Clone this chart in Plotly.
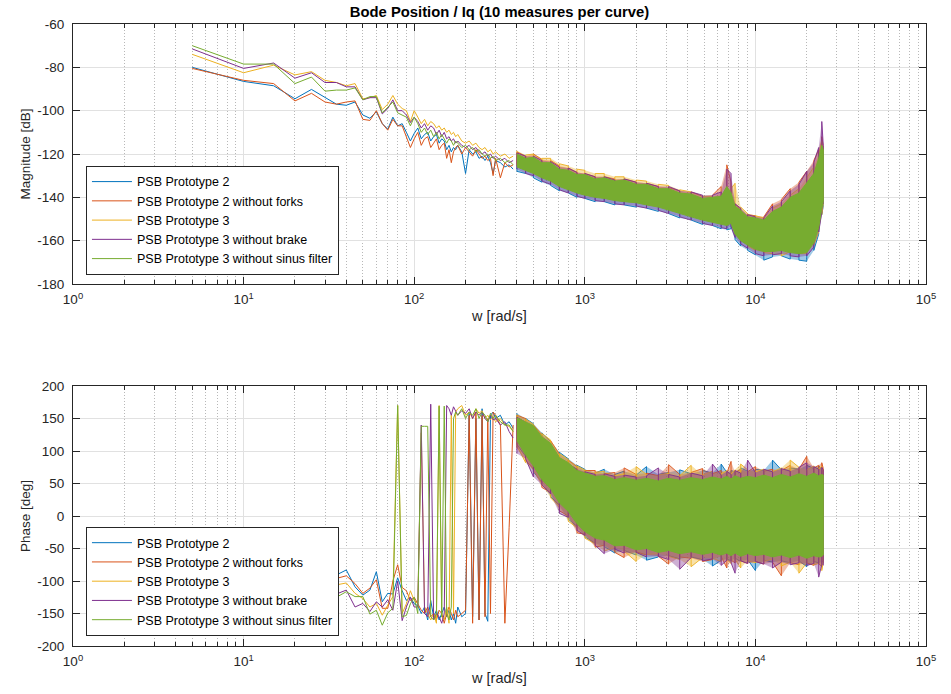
import plotly.graph_objects as go

# ---------------- series identity ----------------
NAMES = ["PSB Prototype 2", "PSB Prototype 2 without forks", "PSB Prototype 3",
         "PSB Prototype 3 without brake", "PSB Prototype 3 without sinus filter"]
COLORS = ["#0072BD", "#D95319", "#EDB120", "#7E2F8E", "#77AC30"]

# ---------------- frequency grids [rad/s] ----------------
W_LO = [5, 10, 15, 20, 25, 30, 35, 40, 45, 50, 55, 60, 65, 70, 75, 80, 85, 90, 95, 100]
W_MID = [105, 110, 115, 120, 125, 130, 135, 140, 145, 150, 155, 160, 165, 170, 175, 180,
         190, 200, 210, 220, 230, 240, 250, 260, 270, 280, 290, 300, 320, 340, 360, 380]
W_HI = [400, 450, 500, 560, 630, 710, 800, 900, 1000, 1150, 1300, 1500, 1700, 2000, 2300,
        2700, 3100, 3600, 4200, 4900, 5600, 6300, 6800, 7200, 7600, 8200, 9000, 10000,
        11200, 12600, 14200, 16000, 18000, 20000, 22000, 23500, 24500, 25000]

# ---------------- magnitude [dB], low frequency ----------------
mag_lo_p2 = [-80, -86.5, -88.5, -94.5, -90.2, -94, -97, -97.5, -96, -102,
             -103.5, -100.5, -106, -108.5, -103, -107, -106, -110, -114, -110.5]
mag_lo_p2nf = [-80.5, -86, -87.5, -95.5, -92, -96, -97, -96, -95.5, -104,
               -104.5, -100, -106, -109, -104, -107, -107, -112, -117, -113]
mag_lo_p3 = [-74, -82.5, -79, -83.5, -82, -86, -87, -88.5, -87.5, -94.5,
             -94, -93, -99.5, -97, -93, -97, -99, -100, -105, -100]
mag_lo_p3nb = [-71.5, -80.5, -78, -85, -82.5, -87, -87, -89, -89, -95,
               -94, -94, -101.5, -99, -95, -100, -100, -102, -105.5, -103]
mag_lo_p3ns = [-70, -78.5, -78.5, -87.5, -84.5, -91, -90.5, -90.5, -89.5, -95,
               -93.5, -93.5, -101, -98.5, -96, -101, -102, -103, -107, -103]

# ---------------- magnitude [dB], mid frequency ----------------
mag_mid_p2 = [-108, -113, -111, -110, -114, -112, -111, -115, -113, -114, -118, -116, -119, -117, -118, -116,
              -119, -129, -118, -120, -119, -122, -121, -123, -121, -124, -129, -123, -124, -126, -125, -127]
mag_mid_p2nf = [-110, -116, -113, -112, -117, -115, -113, -118, -116, -115, -122, -118, -124, -119, -117, -116,
                -120, -117, -119, -121, -118, -120, -122, -121, -123, -122, -130, -122, -131, -124, -126, -125]
mag_mid_p3 = [-103, -106, -104, -107, -105, -106, -108, -107, -109, -108, -110, -109, -111, -110, -112, -111,
              -114, -115, -114, -116, -115, -117, -118, -117, -119, -118, -120, -119, -121, -120, -122, -121]
mag_mid_p3nb = [-105, -108, -106, -109, -107, -108, -111, -109, -112, -110, -113, -112, -114, -113, -115, -114,
                -116, -117, -116, -118, -117, -119, -120, -119, -121, -120, -122, -121, -123, -122, -124, -123]
mag_mid_p3ns = [-106, -110, -108, -111, -109, -112, -110, -113, -111, -113, -115, -113, -114, -116, -114, -115,
                -117, -116, -118, -117, -119, -118, -120, -121, -120, -122, -121, -123, -122, -124, -123, -125]

# ---------------- magnitude [dB], high frequency band (upper / lower envelope of the 10 measures) ----------------
mag_up_p2 = [-121, -123, -123, -125, -125.5, -128, -129, -130.5, -131, -132.5, -132.5, -133.5, -133.5, -135,
             -135.5, -137, -137.5, -139, -140, -141.5, -141.5, -141, -139, -141, -146, -148, -150, -151,
             -152, -149, -147, -143, -140, -136, -131, -124, -119, -120]
mag_dn_p2 = [-128, -129, -131, -133, -134.5, -137, -138, -140, -140.5, -142, -142, -143.5, -143.5, -144.5,
             -145, -146.5, -147.5, -149.5, -150.5, -152.5, -153, -154.5, -155, -154.5, -159.5, -162.5, -164.5, -166.5,
             -169, -167.5, -167, -168.5, -169, -169.5, -164.5, -157, -148, -144]
mag_up_p2nf = [-119, -121, -120, -122.5, -123, -125.5, -126.5, -128.5, -129, -130.5, -130.5, -131.5, -131.5, -133,
               -133.5, -135, -135.5, -137, -137.5, -139.5, -139, -135, -125, -133, -143, -145.5, -148, -148.5,
               -149, -143, -141, -136, -133, -128, -123, -118, -112, -117]
mag_dn_p2nf = [-125, -127, -128, -130, -131.5, -134, -135.5, -137, -138, -139, -139.5, -140.5, -141, -141.5,
               -142.5, -143.5, -145, -146.5, -148, -149.5, -150.5, -150, -148, -150, -156, -159, -161, -163,
               -164, -164, -163.5, -164.5, -165, -164.5, -160, -153, -144, -141]
mag_up_p3 = [-118.5, -120.5, -120, -122, -122, -124.5, -125.5, -127, -127.5, -129, -129, -130.5, -130.5, -132,
             -132.5, -134, -134.5, -136.5, -137.5, -139.5, -139.5, -139, -137, -136, -133.5, -144.5, -147.5, -148.5,
             -149.5, -145, -143, -139, -136, -131, -126, -120, -114, -118]
mag_dn_p3 = [-125.5, -127, -128.5, -130.5, -132, -134.5, -136, -137.5, -138.5, -139.5, -140, -141, -141.5, -142,
             -143, -144, -145.5, -147, -148.5, -150, -151, -152, -152, -151, -156, -160, -162.5, -164.5,
             -165.5, -166, -167, -165, -166, -166, -162, -156, -148, -143]
mag_up_p3nb = [-119.5, -121, -121, -123, -123.5, -126, -126.5, -128.5, -129, -130.5, -130.5, -132, -131.5, -133,
               -133.5, -135, -135, -137, -137.5, -139, -139, -137.5, -127, -129, -143, -145, -148, -149,
               -149.5, -144, -142, -137, -134, -128, -124, -117, -105, -116]
mag_dn_p3nb = [-127, -129, -130, -132.5, -134, -136.5, -138, -139.5, -140.5, -141.5, -142, -143, -143.5, -144,
               -145, -146, -147.5, -149, -150.5, -152, -153, -154, -154.5, -153.5, -158.5, -161.5, -163.5, -166,
               -167, -166.5, -166, -167, -167.5, -167, -163, -156, -147, -143]
mag_up_p3ns = [-120, -122, -121.5, -124, -124, -127, -127.5, -129.5, -129.5, -131.5, -131, -132.5, -132, -134,
               -134, -136, -136, -138, -138.5, -140.5, -140, -139.5, -135, -138, -144, -146, -149, -149.5,
               -150.5, -146.5, -144.5, -140, -138, -133, -129, -122, -116, -118]
mag_dn_p3ns = [-126, -127.5, -129, -131, -132.5, -135, -136.5, -138, -139, -140, -140.5, -141.5, -142, -142.5,
               -143.5, -144.5, -146, -147.5, -149, -150.5, -151.5, -152.5, -153, -152, -157, -160, -162, -164,
               -165, -165, -164.5, -165.5, -166, -165.5, -161, -154, -145, -142]

# ---------------- phase [deg], low frequency ----------------
ph_lo_p2 = [-40, -55, -65, -75, -82, -88, -90.7, -83, -109, -121.7,
            -114, -85.6, -132, -119, -120, -95, -115, -130, -125, -135]
ph_lo_p2nf = [-45, -58, -70, -80, -88, -94, -96, -92, -104, -119,
              -111, -98, -142, -142, -100, -75, -110, -115, -130, -125]
ph_lo_p3 = [-19, -24, -45, -65, -80, -90, -106, -103, -119, -127,
            -140, -134.5, -152.6, -137, -124, 170, -150, -135, -115, -130]
ph_lo_p3nb = [-28, -45, -62, -80, -95, -105, -120, -114, -140, -134.5,
              -147, -132, -140, -129, -145, -100, -161, -140, -125, -140]
ph_lo_p3ns = [-50, -65, -80, -95, -105, -112, -125, -116.5, -124, -124,
              -151, -145, -168, -149, -142, 170, -155, -153, -135, -125]

# ---------------- phase [deg], mid frequency (wrapping region) ----------------
ph_mid_p2 = [-138, -150, -140, -160, -130, -155, -145, -160, -150, -140, -155, -145, -160, -150, -165, -140,
             -155, -150, 160, -155, 150, -160, 165, -150, -162, 155, 160, 150, 155, 140, 145, 135]
ph_mid_p2nf = [-135, -145, -150, -140, -155, -150, -160, -145, -150, -165, -150, -140, -150, -160, -145, -155,
               -150, -145, 155, -165, 160, -160, 155, -155, 150, -150, 160, 155, 140, -165, -18, 140]
ph_mid_p3 = [-135, 128, -140, -150, -160, -150, -165, 170, -155, -160, -140, -165, 155, -150, 160, 165,
             170, 155, 160, 150, 165, 158, 162, 150, 155, 148, 152, 145, 150, 140, 138, 130]
ph_mid_p3nb = [-140, 140, -150, -155, 172, -160, -150, -155, -165, -150, 170, 165, 155, 168, 160, 155,
               162, 158, 165, 150, 160, 155, 160, 150, 145, 155, 148, 150, 140, 145, 130, 120]
ph_mid_p3ns = [-150, 138, 138, 138, -155, -160, -150, 169, -155, 169, -150, -160, -140, 150, 160, 155,
               165, 150, 160, 155, 165, 150, 160, 155, 145, 158, 150, 155, 145, 140, 140, 130]

# ---------------- phase [deg], high frequency band (upper / lower envelope) ----------------
ph_up_p2 = [158, 150, 142, 128, 115, 98, 88, 78, 72,
            66, 72, 64, 69, 63, 76, 64, 67, 71, 65, 70, 66, 80, 67, 70, 68, 74, 69, 72, 70, 86, 71, 74, 72, 78, 73, 77, 72, 70]
ph_dn_p2 = [110, 92, 68, 52, 30, 16, -5, -16, -32,
            -42, -47, -57, -53, -60, -68, -63, -61, -66, -63, -67, -77, -68, -66, -69, -65, -70, -67, -84, -68,
            -71, -69, -72, -69, -78, -70, -72, -71, -69]
ph_up_p2nf = [155, 150, 140, 125, 116, 95, 86, 76, 70,
              70, 65, 67, 74, 64, 66, 62, 79, 64, 67, 73, 65, 70, 66, 84, 67, 72, 68, 76, 69, 72, 70, 78, 72, 92, 74, 78, 82, 73]
ph_dn_p2nf = [104, 86, 72, 44, 36, 8, 0, -26, -28,
              -48, -45, -56, -64, -55, -60, -62, -74, -63, -65, -70, -67, -62, -80, -68, -72, -69, -73, -70, -74,
              -71, -92, -72, -75, -72, -76, -73, -78, -72]
ph_up_p3 = [156, 149, 141, 127, 117, 96, 87, 77, 71,
            67, 69, 62, 65, 76, 64, 63, 66, 62, 78, 63, 69, 65, 70, 65, 71, 80, 71, 68, 72, 68, 74, 86, 75, 71, 77, 73, 76, 72]
ph_dn_p3 = [108, 82, 70, 50, 28, 14, -8, -18, -34,
            -43, -54, -48, -54, -70, -59, -58, -62, -67, -78, -64, -65, -70, -67, -73, -67, -80, -69, -72, -70,
            -66, -77, -71, -88, -72, -75, -73, -84, -71]
ph_up_p3nb = [152, 144, 135, 118, 108, 88, 80, 72, 68,
              64, 65, 61, 63, 60, 62, 74, 64, 60, 66, 62, 80, 63, 69, 64, 70, 66, 86, 67, 72, 68, 73, 69, 75, 82, 76, 72, 75, 71]
ph_dn_p3nb = [96, 88, 60, 48, 34, 4, -2, -22, -30,
              -45, -58, -51, -57, -56, -63, -62, -67, -82, -64, -69, -66, -76, -68, -72, -88, -69, -73, -70, -74,
              -80, -71, -75, -72, -76, -73, -94, -75, -76]
ph_up_p3ns = [151, 145, 139, 122, 112, 90, 82, 70, 66,
              61, 62, 56, 59, 55, 58, 54, 58, 55, 59, 56, 60, 57, 61, 57, 62, 58, 61, 59, 63, 59, 64, 60, 65, 61, 66, 62, 64, 63]
ph_dn_p3ns = [116, 94, 77, 56, 42, 20, 7, -12, -24,
              -34, -37, -46, -45, -52, -50, -56, -53, -58, -55, -59, -56, -60, -57, -61, -57, -62, -58, -61, -59,
              -63, -60, -64, -60, -65, -61, -63, -62, -60]

MAG_LO = [mag_lo_p2, mag_lo_p2nf, mag_lo_p3, mag_lo_p3nb, mag_lo_p3ns]
MAG_MID = [mag_mid_p2, mag_mid_p2nf, mag_mid_p3, mag_mid_p3nb, mag_mid_p3ns]
MAG_UP = [mag_up_p2, mag_up_p2nf, mag_up_p3, mag_up_p3nb, mag_up_p3ns]
MAG_DN = [mag_dn_p2, mag_dn_p2nf, mag_dn_p3, mag_dn_p3nb, mag_dn_p3ns]
PH_LO = [ph_lo_p2, ph_lo_p2nf, ph_lo_p3, ph_lo_p3nb, ph_lo_p3ns]
PH_MID = [ph_mid_p2, ph_mid_p2nf, ph_mid_p3, ph_mid_p3nb, ph_mid_p3ns]
PH_UP = [ph_up_p2, ph_up_p2nf, ph_up_p3, ph_up_p3nb, ph_up_p3ns]
PH_DN = [ph_dn_p2, ph_dn_p2nf, ph_dn_p3, ph_dn_p3nb, ph_dn_p3ns]

# ---------------- tick labels ----------------
X_TICKS = [1, 10, 100, 1000, 10000, 100000]
X_TICKTEXT = ["10<sup>0</sup>", "10<sup>1</sup>", "10<sup>2</sup>", "10<sup>3</sup>",
              "10<sup>4</sup>", "10<sup>5</sup>"]
X_MINOR = [m * 10 ** d for d in range(5) for m in range(2, 10)]
MAG_TICKS = [-180, -160, -140, -120, -100, -80, -60]
MAG_TICKTEXT = ["-180", "-160", "-140", "-120", "-100", "-80", "-60"]
PH_TICKS = [-200, -150, -100, -50, 0, 50, 100, 150, 200]
PH_TICKTEXT = ["-200", "-150", "-100", "-50", "0", "50", "100", "150", "200"]

FONT = "Liberation Sans, Arial, Helvetica, sans-serif"
AX = "#262626"


def rgba(hexc, a):
    h = hexc.lstrip("#")
    return "rgba(%d,%d,%d,%.2f)" % (int(h[0:2], 16), int(h[2:4], 16), int(h[4:6], 16), a)


def zigzag(w, up, dn, flip):
    """Order the envelope samples as a noisy trace: up/down stroke at every frequency."""
    xs, ys = [], []
    for k, (wk, u, d) in enumerate(zip(w, up, dn)):
        first, second = (d, u) if (k + flip) % 2 else (u, d)
        xs += [wk, wk]
        ys += [first, second]
    return xs, ys


fig = go.Figure()

for ax_x, ax_y, lo, mid, up, dn, leg in (("x", "y", MAG_LO, MAG_MID, MAG_UP, MAG_DN, "legend"),
                                         ("x2", "y2", PH_LO, PH_MID, PH_UP, PH_DN, "legend2")):
    for i in range(5):
        fig.add_trace(go.Scatter(x=W_LO + W_MID, y=lo[i] + mid[i], mode="lines",
                                 line=dict(color=COLORS[i], width=1), name=NAMES[i],
                                 legend=leg, xaxis=ax_x, yaxis=ax_y, hoverinfo="skip"))
    for i in range(5):
        last = (i == 4)
        fig.add_trace(go.Scatter(x=W_HI + W_HI[::-1], y=up[i] + dn[i][::-1], mode="lines",
                                 fill="toself", fillcolor=rgba(COLORS[i], 1.0 if last else 0.38),
                                 line=dict(color=COLORS[i], width=1 if last else 0), showlegend=False,
                                 xaxis=ax_x, yaxis=ax_y, hoverinfo="skip"))
        if not last:
            zx, zy = zigzag(W_HI, up[i], dn[i], i % 2)
            fig.add_trace(go.Scatter(x=zx, y=zy, mode="lines",
                                     line=dict(color=rgba(COLORS[i], 0.9), width=1),
                                     showlegend=False, xaxis=ax_x, yaxis=ax_y, hoverinfo="skip"))


def xaxis_style(anchor):
    return dict(
        type="log", range=[0, 5], anchor=anchor,
        tickmode="array", tickvals=X_TICKS, ticktext=X_TICKTEXT,
        ticks="inside", ticklen=7, tickcolor=AX, tickwidth=1, ticklabelstandoff=3,
        showline=True, linecolor=AX, linewidth=1, mirror="ticks",
        showgrid=True, gridcolor="#e1e1e1", gridwidth=1, zeroline=False,
        minor=dict(tickmode="array", tickvals=X_MINOR, ticks="inside", ticklen=4,
                   tickcolor=AX, showgrid=True, gridcolor="#b8b8b8", griddash="1px,2px", gridwidth=1),
        tickfont=dict(family=FONT, size=13.5, color=AX),
        title=dict(text="w [rad/s]", font=dict(family=FONT, size=14.5, color=AX), standoff=4),
    )


def yaxis_style(rng, tv, tt, title, domain, anchor):
    return dict(
        range=rng, domain=domain, anchor=anchor, tickmode="array", tickvals=tv, ticktext=tt,
        ticks="inside", ticklen=7, tickcolor=AX, tickwidth=1, ticklabelstandoff=5,
        showline=True, linecolor=AX, linewidth=1, mirror="ticks",
        showgrid=True, gridcolor="#e1e1e1", gridwidth=1, zeroline=False,
        tickfont=dict(family=FONT, size=13.5, color=AX),
        title=dict(text=title, font=dict(family=FONT, size=13.5, color=AX), standoff=3),
    )


legend_common = dict(
    bgcolor="white", bordercolor=AX, borderwidth=1,
    font=dict(family=FONT, size=12.5, color="black"),
    xanchor="left", yanchor="bottom", tracegroupgap=0, itemwidth=40,
)

fig.update_layout(
    width=951, height=694,
    margin=dict(l=73, r=25, t=24, b=48),
    paper_bgcolor="white", plot_bgcolor="white",
    font=dict(family=FONT, color=AX),
    title=dict(text="<b>Bode Position / Iq (10 measures per curve)</b>",
               font=dict(family=FONT, size=14.8, color="black"),
               x=0.5, xref="paper", xanchor="center", y=1 - 12 / 694, yanchor="middle"),
    xaxis=xaxis_style("y"),
    yaxis=yaxis_style([-180, -60], MAG_TICKS, MAG_TICKTEXT, "Magnitude [dB]", [0.582, 1.0], "x"),
    xaxis2=xaxis_style("y2"),
    yaxis2=yaxis_style([-200, 200], PH_TICKS, PH_TICKTEXT, "Phase [deg]", [0.0, 0.418], "x2"),
    legend=dict(x=0.0152, y=0.5965, **legend_common),
    legend2=dict(x=0.0152, y=0.016, **legend_common),
    showlegend=True,
)

fig.write_html("out.html")
